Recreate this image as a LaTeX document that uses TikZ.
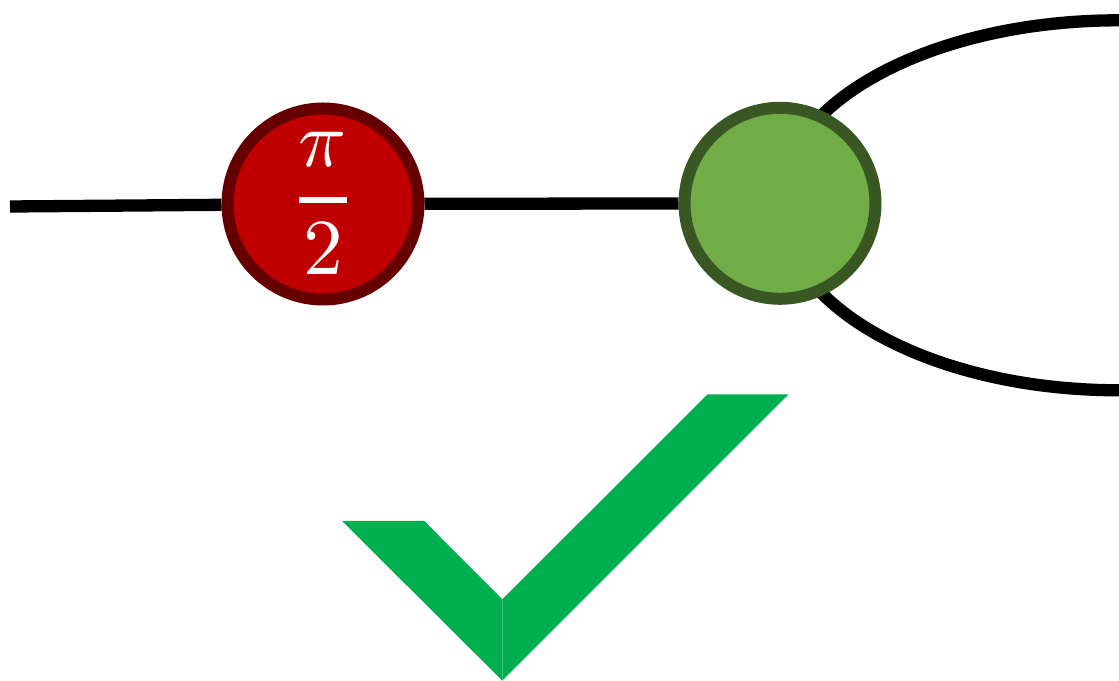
\documentclass[tikz,border=0pt]{standalone}
\definecolor{zxredfill}{HTML}{C00000}
\definecolor{zxredline}{HTML}{660000}
\definecolor{zxgreenfill}{HTML}{70AD47}
\definecolor{zxgreenline}{HTML}{385723}
\definecolor{tickgreen}{HTML}{00B050}
\pgfdeclarelayer{wires}
\pgfsetlayers{wires,main}
\tikzset{
  zxnode/.style={circle, minimum size=1.91cm, inner sep=0pt, line width=0.12cm},
  redspider/.style={zxnode, fill=zxredfill, draw=zxredline},
  greenspider/.style={zxnode, fill=zxgreenfill, draw=zxgreenline},
  phase/.style={text=white, inner sep=0pt, scale=2.26},
  wire/.style={line width=0.123cm, black},
  tick/.style={fill=tickgreen, draw=none}
}
\begin{document}
\begin{tikzpicture}
\useasboundingbox (0,0) rectangle (11.19,6.81);

% spiders
\node[redspider] (r) at (3.23,4.77) {};
\node[phase, anchor=base] (rphase) at (3.23,4.61) {$\displaystyle{\pi \above 0.7pt 2}$};
\node[greenspider] (g) at (7.80,4.777) {};
\coordinate (in) at (0.10,4.745);

% wires behind the spiders
\begin{pgfonlayer}{wires}
  \draw[wire] (in) -- (r);
  \draw[wire] (r) -- (g);
  \draw[wire] (g.center) arc[start angle=180, end angle=90, x radius=3.39, y radius=1.83];
  \draw[wire] (g.center) arc[start angle=180, end angle=270, x radius=3.39, y radius=1.87];
\end{pgfonlayer}

% check mark, drawn as two halves
\fill[tick] (3.42,1.60) -- (4.243,1.60) -- (5.023,0.817) -- (5.023,0.003) -- cycle;
\fill[tick] (5.023,0.817) -- (7.077,2.867) -- (7.887,2.867) -- (5.023,0.003) -- cycle;
\end{tikzpicture}
\end{document}
